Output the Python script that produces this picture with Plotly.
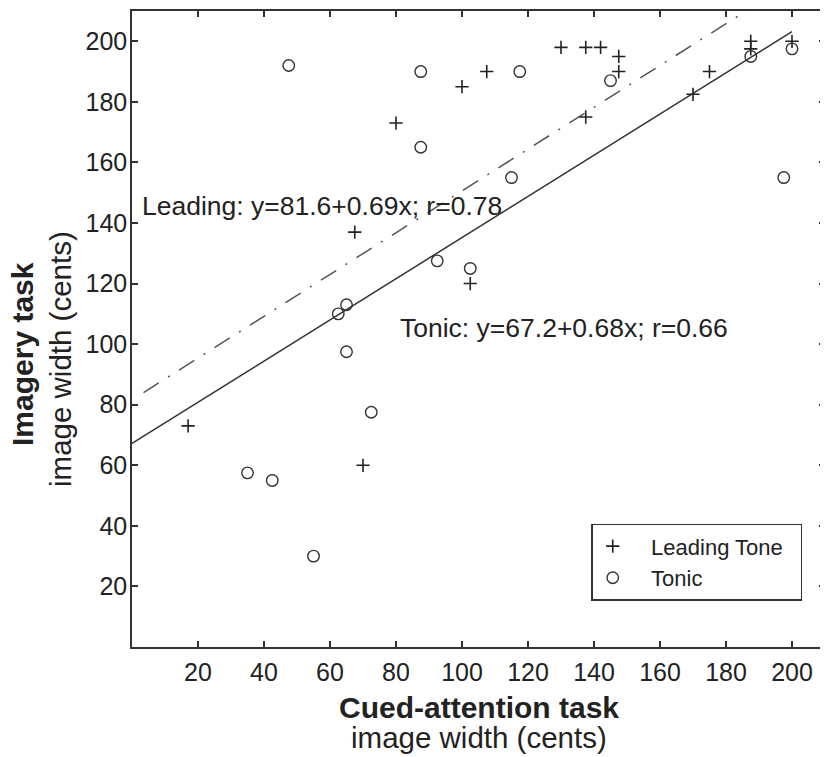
import plotly.graph_objects as go

# ---- data ----
leading_x = [17, 67.5, 70, 80, 100, 102.5, 107.5, 130, 137.5, 142, 147.5, 147.5, 137.5, 170, 175, 187.5, 187.5, 200]
leading_y = [73, 137, 60, 173, 185, 120, 190, 198, 198, 198, 195, 190, 175, 182.5, 190, 200, 197.5, 200]

tonic_x = [35, 42.5, 47.5, 55, 62.5, 65, 65, 72.5, 87.5, 87.5, 92.5, 102.5, 115, 117.5, 145, 187.5, 197.5, 200]
tonic_y = [57.5, 55, 192, 30, 110, 113, 97.5, 77.5, 190, 165, 127.5, 125, 155, 190, 187, 195, 155, 197.5]

# regression lines (from the printed equations)
leading_fit = {"intercept": 81.6, "slope": 0.69, "x": [3.5, 190]}
tonic_fit = {"intercept": 67.2, "slope": 0.68, "x": [0, 200]}

tick_vals = [20, 40, 60, 80, 100, 120, 140, 160, 180, 200]

FONT = "Liberation Sans, Arial, Helvetica, sans-serif"
INK = "#222222"
NB = "\u00a0"

fig = go.Figure()

fig.add_trace(go.Scatter(
    x=leading_fit["x"],
    y=[leading_fit["intercept"] + leading_fit["slope"] * v for v in leading_fit["x"]],
    mode="lines", line=dict(color="#555555", width=1.5, dash="18px,11px,2px,11px"),
    showlegend=False, hoverinfo="skip"))

fig.add_trace(go.Scatter(
    x=tonic_fit["x"],
    y=[tonic_fit["intercept"] + tonic_fit["slope"] * v for v in tonic_fit["x"]],
    mode="lines", line=dict(color="#333333", width=1.5),
    showlegend=False, hoverinfo="skip"))

fig.add_trace(go.Scatter(
    x=leading_x, y=leading_y, mode="markers", name=NB * 3 + "Leading Tone" + NB * 2,
    marker=dict(symbol="cross-thin", size=9.5, color=INK, line=dict(color=INK, width=1.6))))

fig.add_trace(go.Scatter(
    x=tonic_x, y=tonic_y, mode="markers", name=NB * 3 + "Tonic",
    marker=dict(symbol="circle-open", size=11.5, color="#333333", line=dict(color="#333333", width=1.4))))

axis_common = dict(
    range=[0, 210], tickvals=tick_vals, ticks="inside", ticklen=6, tickwidth=1.5,
    tickcolor="#333333", showline=True, linecolor="#333333", linewidth=1.5,
    mirror="ticks", showgrid=False, zeroline=False,
    tickfont=dict(family=FONT, size=25, color=INK),
)

fig.update_layout(
    width=820, height=749,
    margin=dict(l=124, r=1, t=1, b=110),
    paper_bgcolor="white", plot_bgcolor="white",
    xaxis=dict(**axis_common, ticklabelstandoff=2),
    yaxis=dict(**axis_common, ticklabelstandoff=-2),
    font=dict(family=FONT, color=INK),
    legend=dict(
        x=0.6627, y=0.1937, xanchor="left", yanchor="top",
        bordercolor="#333333", borderwidth=1.5, bgcolor="white",
        font=dict(family=FONT, size=22, color=INK),
        tracegroupgap=0, itemwidth=30,
    ),
)

annotations = [
    dict(x=2.5, y=145.5, xref="x", yref="y", text="Leading: y=81.6+0.69x; r=0.78",
         xanchor="left", yanchor="middle", showarrow=False,
         font=dict(family=FONT, size=26.5, color=INK)),
    dict(x=80.6, y=105.3, xref="x", yref="y", text="Tonic: y=67.2+0.68x; r=0.66",
         xanchor="left", yanchor="middle", showarrow=False,
         font=dict(family=FONT, size=26.5, color=INK)),
    dict(x=0.5, y=0, xref="paper", yref="paper", text="<b>Cued-attention task</b>",
         xanchor="center", yanchor="middle", yshift=-60, showarrow=False,
         font=dict(family=FONT, size=30, color=INK)),
    dict(x=0.5, y=0, xref="paper", yref="paper", text="image width (cents)",
         xanchor="center", yanchor="middle", yshift=-90, showarrow=False,
         font=dict(family=FONT, size=29.5, color=INK)),
    dict(x=0, y=0.5, xref="paper", yref="paper", text="<b>Imagery task</b>",
         xanchor="center", yanchor="middle", xshift=-110, yshift=-25, textangle=-90,
         showarrow=False, font=dict(family=FONT, size=30, color=INK)),
    dict(x=0, y=0.5, xref="paper", yref="paper", text="image width (cents)",
         xanchor="center", yanchor="middle", xshift=-72, yshift=-30, textangle=-90,
         showarrow=False, font=dict(family=FONT, size=29.5, color=INK)),
]
fig.update_layout(annotations=annotations)

fig.write_html("out.html")
